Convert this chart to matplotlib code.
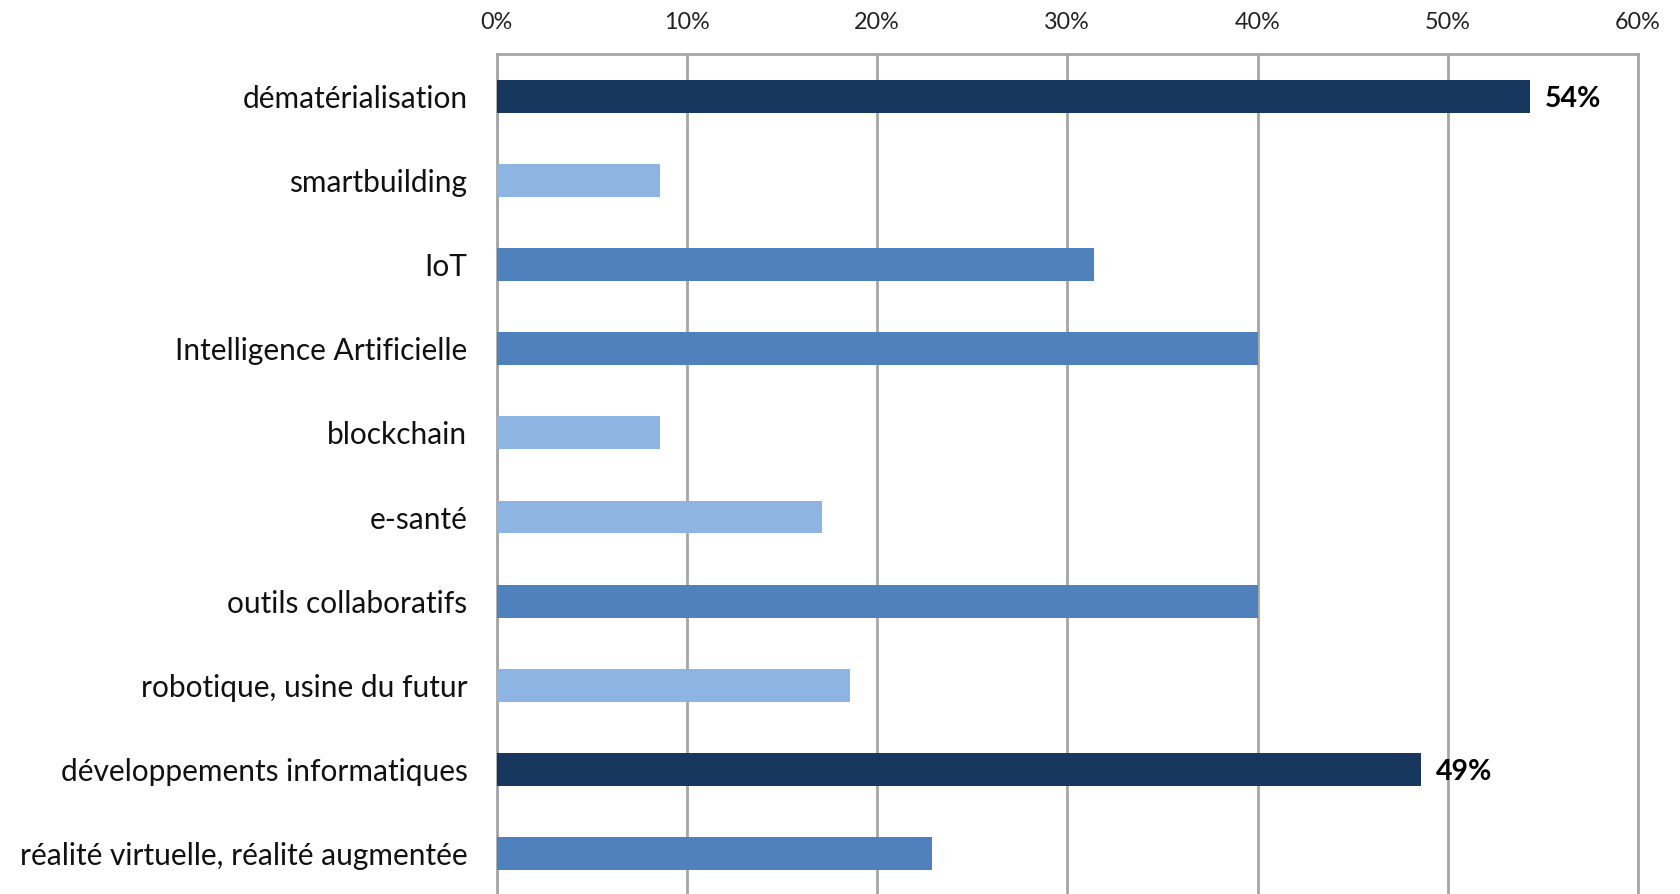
import matplotlib
matplotlib.use("Agg")
import matplotlib.pyplot as plt
from matplotlib.ticker import PercentFormatter

plt.rcParams['font.family'] = ['Lato', 'DejaVu Sans']

categories = [
    "dématérialisation",
    "smartbuilding",
    "IoT",
    "Intelligence Artificielle",
    "blockchain",
    "e-santé",
    "outils collaboratifs",
    "robotique, usine du futur",
    "développements informatiques",
    "réalité virtuelle, réalité augmentée",
]
values = [54.3, 8.6, 31.4, 40.0, 8.6, 17.1, 40.0, 18.6, 48.6, 22.9]
shades = ["dark", "light", "mid", "mid", "light", "light", "mid", "light", "dark", "mid"]
labelled = ["dématérialisation", "développements informatiques"]

palette = {"dark": "#17375E", "mid": "#4F81BD", "light": "#8DB4E2"}
grid_col = "#A6A6A6"

fig = plt.figure(figsize=(16.81, 8.94), dpi=100)
ax = fig.add_axes([0.2954, -0.0022, 0.679, 0.9418])

ypos = list(range(len(categories)))
ax.barh(ypos, values, height=0.39, color=[palette[s] for s in shades], zorder=3)

# only the two dark bars get a value label
for y, cat, v in zip(ypos, categories, values):
    if cat in labelled:
        ax.annotate(f"{v:.0f}%", (v, y), xytext=(11, -2), textcoords="offset points",
                    va="center", ha="left", fontsize=20.5, fontweight="bold",
                    color="black", zorder=4)

ax.set_xlim(0, 60)
ax.set_ylim(len(categories) - 0.5, -0.5)
ax.set_xticks(range(0, 61, 10))
ax.xaxis.set_major_formatter(PercentFormatter(decimals=0))
ax.xaxis.tick_top()
ax.set_yticks(ypos)
ax.set_yticklabels(categories)

ax.tick_params(axis="x", length=0, pad=15, labelsize=16.8, labelcolor="#222222")
ax.tick_params(axis="y", length=0, pad=21, labelsize=21.5, labelcolor="#111111")

ax.grid(axis="x", color=grid_col, linewidth=2, zorder=0)
for side in ["top", "right", "left"]:
    ax.spines[side].set_color(grid_col)
    ax.spines[side].set_linewidth(2)
ax.spines["bottom"].set_visible(False)

fig.savefig("out.png", dpi=100)
